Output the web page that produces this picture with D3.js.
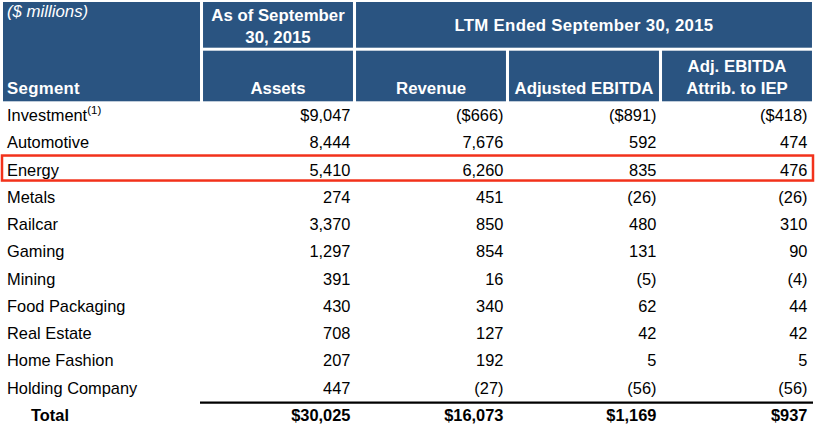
<!DOCTYPE html>
<html>
<head>
<meta charset="utf-8">
<script src="https://cdn.jsdelivr.net/npm/d3@7"></script>
<style>
  html, body { margin: 0; padding: 0; background: #ffffff; }
  svg { display: block; font-family: "Liberation Sans", Arial, Helvetica, sans-serif; }
</style>
</head>
<body>
<svg id="chart" width="819" height="436"></svg>
<script>
// ---- data ----
const segments = ["Investment", "Automotive", "Energy", "Metals", "Railcar", "Gaming",
  "Mining", "Food Packaging", "Real Estate", "Home Fashion", "Holding Company"];
const assets       = [9047, 8444, 5410, 274, 3370, 1297, 391, 430, 708, 207, 447];
const revenue      = [-666, 7676, 6260, 451, 850, 854, 16, 340, 127, 192, -27];
const adjEbitda    = [-891, 592, 835, -26, 480, 131, -5, 62, 42, 5, -56];
const adjEbitdaIEP = [-418, 474, 476, -26, 310, 90, -4, 44, 42, 5, -56];
const totals       = [30025, 16073, 1169, 937];
const totalLabel   = "Total";
const columnLabels = [["Assets"], ["Revenue"], ["Adjusted EBITDA"], ["Adj. EBITDA", "Attrib. to IEP"]];
const unitLabel    = "($ millions)";
const segmentLabel = "Segment";
const groupLabels  = [["As of September", "30, 2015"], ["LTM Ended September 30, 2015"]];
const footnoteMark = "(1)";
const highlightSegment = "Energy";

// ---- layout ----
const svg = d3.select("#chart");
const HEADER = "#2a5481";
const RED = "#f2321b";
const columns = [assets, revenue, adjEbitda, adjEbitdaIEP];

const xCol = d3.scaleBand().domain(d3.range(4)).range([201.5, 813.5])
  .paddingInner(0.02).paddingOuter(0.01);
const bw = xCol.bandwidth();
const yRow = d3.scaleBand().domain(d3.range(segments.length + 1)).range([102, 429]);
const rowC = i => yRow(i) + yRow.bandwidth() / 2;

const fmtNum = d3.format(",");
function fmt(v, dollar) {
  const s = (dollar ? "$" : "") + fmtNum(Math.abs(v));
  return v < 0 ? "(" + s + ")" : s;
}

// header blocks
const headerTop = 2, headerMid1 = 47.7, headerMid2 = 50.7, headerBot = 101.3;
svg.append("rect").attr("x", 3).attr("y", headerTop).attr("width", 197)
  .attr("height", headerBot - headerTop).attr("fill", HEADER);
svg.append("rect").attr("x", xCol(0)).attr("y", headerTop).attr("width", bw)
  .attr("height", headerMid1 - headerTop).attr("fill", HEADER);
svg.append("rect").attr("x", xCol(1)).attr("y", headerTop)
  .attr("width", xCol(3) + bw - xCol(1)).attr("height", headerMid1 - headerTop).attr("fill", HEADER);
svg.selectAll("rect.colcell").data(d3.range(4)).join("rect").attr("class", "colcell")
  .attr("x", d => xCol(d)).attr("y", headerMid2).attr("width", bw)
  .attr("height", headerBot - headerMid2).attr("fill", HEADER);

// header texts
const white = "#ffffff";
svg.append("text").attr("x", 7).attr("y", 17).attr("fill", white)
  .attr("font-size", 16.8).attr("font-style", "italic").text(unitLabel);
svg.append("text").attr("x", 7).attr("y", 94).attr("fill", white)
  .attr("font-size", 16.8).attr("font-weight", "bold").attr("letter-spacing", 0.3).text(segmentLabel);

const g0 = svg.append("text").attr("fill", white).attr("font-size", 16.8)
  .attr("font-weight", "bold").attr("text-anchor", "middle");
groupLabels[0].forEach((t, i) => g0.append("tspan").attr("x", xCol(0) + bw / 2)
  .attr("y", 20.5 + i * 22.5).text(t));
svg.append("text").attr("fill", white).attr("font-size", 16.8).attr("font-weight", "bold")
  .attr("letter-spacing", 0.3)
  .attr("text-anchor", "middle").attr("x", (xCol(1) + xCol(3) + bw) / 2).attr("y", 30.5)
  .text(groupLabels[1][0]);

columnLabels.forEach((lines, c) => {
  const t = svg.append("text").attr("fill", white).attr("font-size", 16.8)
    .attr("font-weight", "bold").attr("text-anchor", "middle");
  lines.forEach((s, i) => t.append("tspan").attr("x", xCol(c) + bw / 2)
    .attr("y", 94 - (lines.length - 1 - i) * 22).text(s));
});

// highlight box
const hi = segments.indexOf(highlightSegment);
svg.append("rect").attr("x", 2).attr("y", rowC(hi) - 14.6).attr("width", 811)
  .attr("height", 25).attr("fill", "none").attr("stroke", RED).attr("stroke-width", 2.5);

// body rows
const body = svg.append("g").attr("font-size", 16.4).attr("fill", "#000");
segments.forEach((s, i) => {
  const t = body.append("text").attr("x", 7).attr("y", rowC(i) + 5.5).text(s);
  if (i === 0) {
    t.append("tspan").attr("font-size", 11.5).attr("dy", -7).text(footnoteMark);
  }
  columns.forEach((col, c) => {
    body.append("text").attr("text-anchor", "end")
      .attr("x", xCol(c) + bw - (c === 3 ? 4.5 : 2.5)).attr("y", rowC(i) + 5.5)
      .text(fmt(col[i], i === 0));
  });
});

// total line and row
const ti = segments.length;
svg.append("line").attr("x1", 200).attr("x2", 813).attr("y1", 402.6).attr("y2", 402.6)
  .attr("stroke", "#000").attr("stroke-width", 2.2);
const tot = svg.append("g").attr("font-size", 16.4).attr("font-weight", "bold").attr("fill", "#000");
tot.append("text").attr("x", 31).attr("y", rowC(ti) + 5.5).text(totalLabel);
totals.forEach((v, c) => {
  tot.append("text").attr("text-anchor", "end")
    .attr("x", xCol(c) + bw - (c === 3 ? 4.5 : 2.5)).attr("y", rowC(ti) + 5.5)
    .text(fmt(v, true));
});
</script>
</body>
</html>
